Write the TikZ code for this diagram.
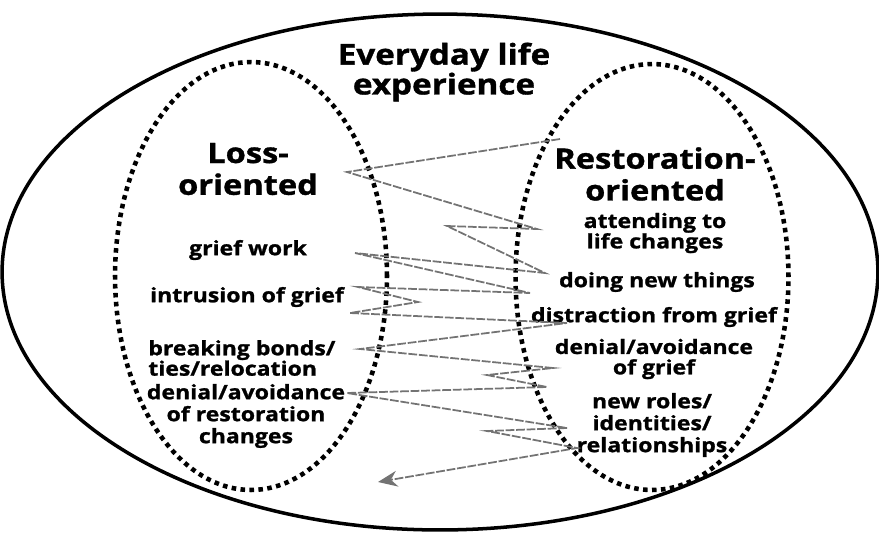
\documentclass[tikz,border=0pt]{standalone}
\usepackage{fontspec}
\setsansfont{Open Sans}[FakeStretch=1.16, BoldFeatures={FakeBold=1.2}]
\usepackage{tikz}
\usetikzlibrary{arrows.meta,positioning,shapes.geometric}
\usepackage{xcolor}
\tikzset{
  life/.style  = {ellipse, draw, line width=2pt, inner sep=0pt},
  zone/.style  = {ellipse, draw, line width=2.6pt, dash pattern=on 2.6pt off 2.5pt,
                  inner sep=0pt},
  title/.style = {align=center, inner sep=0pt,
                  font=\sffamily\bfseries\fontsize{16.3}{17}\selectfont},
  head/.style  = {align=center, inner sep=0pt,
                  font=\sffamily\bfseries\fontsize{16}{18.1}\selectfont},
  item/.style  = {align=center, inner sep=0pt,
                  font=\sffamily\bfseries\fontsize{11.3}{11.6}\selectfont},
  loose/.style = {font=\sffamily\bfseries\fontsize{11.3}{12.5}\selectfont},
  zig/.style   = {black!55, line width=1pt, dash pattern=on 5pt off 1pt,
                  -{Stealth[length=11pt, width=9pt]}},
}

\begin{document}
\begin{tikzpicture}[x=0.02cm, y=-0.02cm]
    \useasboundingbox (0,0) rectangle (879,539);
    % the three ellipses
    \node[life, minimum width=17.52cm, minimum height=10.32cm] (outer) at (440,272) {};
    \node[zone, minimum width=5.44cm, minimum height=8.56cm] (loss) at (251,276) {};
    \node[zone, minimum width=5.46cm, minimum height=8.52cm] (rest) at (652,277) {};

    \node[title] (life) at (444,72) {Everyday life\\experience};

    % loss side
    \node[head] (losshead) at (248,169) {Loss-\\oriented};
    \node[item] (griefwork) at (248,250) {grief work};
    \node[item] (intrusion) at (247,297) {intrusion of grief};
    \node[item, align=left, anchor=west] (bonds) at (148,358) {breaking bonds/\\ties/relocation};
    \node[item, loose] (denrest) at (246,416) {denial/avoidance\\of restoration\\changes};

    % restoration side
    \node[head] (resthead) at (655,174) {Restoration-\\oriented};
    \node[item] (attend) at (655,233) {attending to\\life changes};
    \node[item] (newthings) at (657,282) {doing new things};
    \node[item] (distract) at (654,317) {distraction from grief};
    \node[item] (dengrief) at (654,359) {denial/avoidance\\of grief};
    \node[item, loose] (roles) at (652,425) {new roles/\\identities/\\relationships};

    % oscillation between the two sides
    \foreach \i/\p in {1/{560,139}, 2/{347,172}, 3/{537,229}, 4/{447,226},
                       5/{545,273}, 6/{355,253}, 7/{530,293}, 8/{358,287},
                       9/{418,302}, 10/{350,313}, 11/{567,323}, 12/{360,349},
                       13/{553,368}, 14/{487,375}, 15/{547,387}, 16/{347,393},
                       17/{567,428}, 18/{487,431}, 19/{577,448}, 20/{378,482}}
      \coordinate (z\i) at (\p);
    \draw[zig] (z1) \foreach \i in {2,...,20}{ -- (z\i)};
\end{tikzpicture}
\end{document}
